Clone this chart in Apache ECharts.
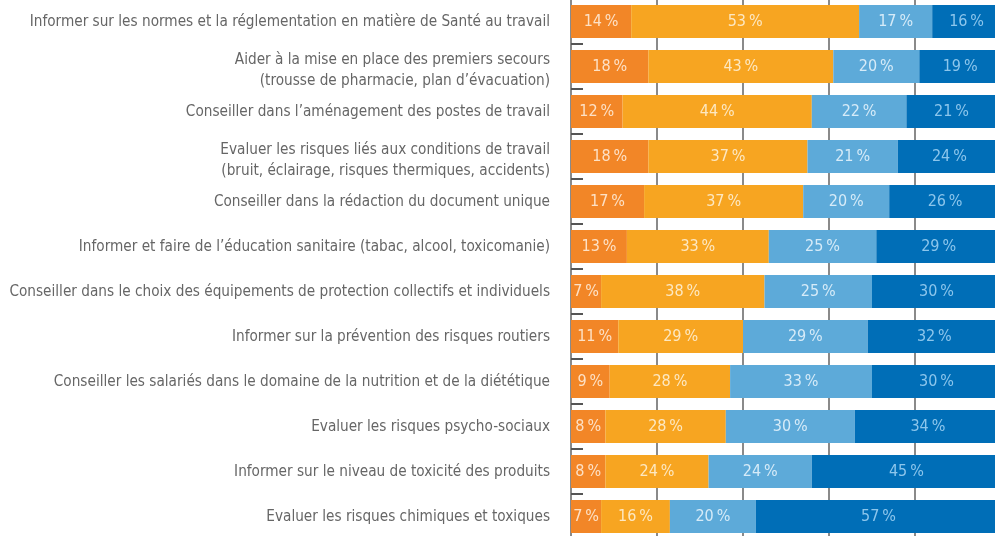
<!DOCTYPE html>
<html><head><meta charset="utf-8">
<script src="https://cdn.jsdelivr.net/npm/echarts@6/dist/echarts.min.js"></script>
<style>html,body{margin:0;padding:0;background:#fff}#c{width:995px;height:536px}</style>
</head><body><div id="c"></div>
<script>
const categories = [
  "Informer sur les normes et la réglementation en matière de Santé au travail",
  "Aider à la mise en place des premiers secours\n(trousse de pharmacie, plan d’évacuation)",
  "Conseiller dans l’aménagement des postes de travail",
  "Evaluer les risques liés aux conditions de travail\n(bruit, éclairage, risques thermiques, accidents)",
  "Conseiller dans la rédaction du document unique",
  "Informer et faire de l’éducation sanitaire (tabac, alcool, toxicomanie)",
  "Conseiller dans le choix des équipements de protection collectifs et individuels",
  "Informer sur la prévention des risques routiers",
  "Conseiller les salariés dans le domaine de la nutrition et de la diététique",
  "Evaluer les risques psycho-sociaux",
  "Informer sur le niveau de toxicité des produits",
  "Evaluer les risques chimiques et toxiques"
];
const s1 = [14, 18, 12, 18, 17, 13, 7, 11, 9, 8, 8, 7];
const s2 = [53, 43, 44, 37, 37, 33, 38, 29, 28, 28, 24, 16];
const s3 = [17, 20, 22, 21, 20, 25, 25, 29, 33, 30, 24, 20];
const s4 = [16, 19, 21, 24, 26, 29, 30, 32, 30, 34, 45, 57];
const xTicks = [0, 20, 40, 60, 80, 100];

const colors = ['#F28627', '#F7A521', '#5DAAD9', '#006EB7'];
const labelColors = ['#FDE1C6', '#FDE8C2', '#D6EBF8', '#8CC6EC'];
const FONT = '"Liberation Sans Narrow", "DejaVu Sans Condensed", Roboto, sans-serif';

function mk(name, data, i) {
  return {
    name, type: 'bar', stack: 'a', data, barWidth: 33,
    itemStyle: { color: colors[i] },
    label: { show: true, position: 'inside', formatter: p => p.value + '\u2009%',
      color: labelColors[i], fontFamily: FONT, fontSize: 16 },
    emphasis: { disabled: true }, animation: false
  };
}
const chart = echarts.init(document.getElementById('c'), null, { renderer: 'canvas' });
chart.setOption({
  animation: false,
  grid: { left: 571, top: -1, width: 430, height: 540, containLabel: false, outerBoundsMode: 'none' },
  xAxis: { type: 'value', min: xTicks[0], max: xTicks[xTicks.length - 1], interval: 20, position: 'bottom',
    axisLabel: { show: false }, axisLine: { show: false }, axisTick: { show: false },
    splitLine: { show: true, lineStyle: { color: '#8a8a8a', width: 2 } } },
  yAxis: { type: 'category', data: categories, inverse: true,
    axisLine: { show: true, lineStyle: { color: '#8a8a8a', width: 2 } },
    axisTick: { show: true, inside: true, length: 12, lineStyle: { color: '#555', width: 2 } },
    axisLabel: { color: '#666', fontFamily: FONT, fontSize: 15.2, margin: 21, align: 'right',
      formatter: v => {
        const parts = v.split('\n');
        if (parts.length === 1) return '{t|' + v + '}';
        return '{s| }\n' + parts.map(p => '{m|' + p + '}').join('\n');
      },
      rich: {
        t: { fontFamily: FONT, fontSize: 15.2, color: '#666', lineHeight: 22, padding: [2, 0, 0, 0] },
        s: { fontSize: 1, lineHeight: 9 },
        m: { fontFamily: FONT, fontSize: 15.2, color: '#666', lineHeight: 21 }
      } } },
  series: [mk('a', s1, 0), mk('b', s2, 1), mk('c', s3, 2), mk('d', s4, 3)]
});
</script></body></html>
